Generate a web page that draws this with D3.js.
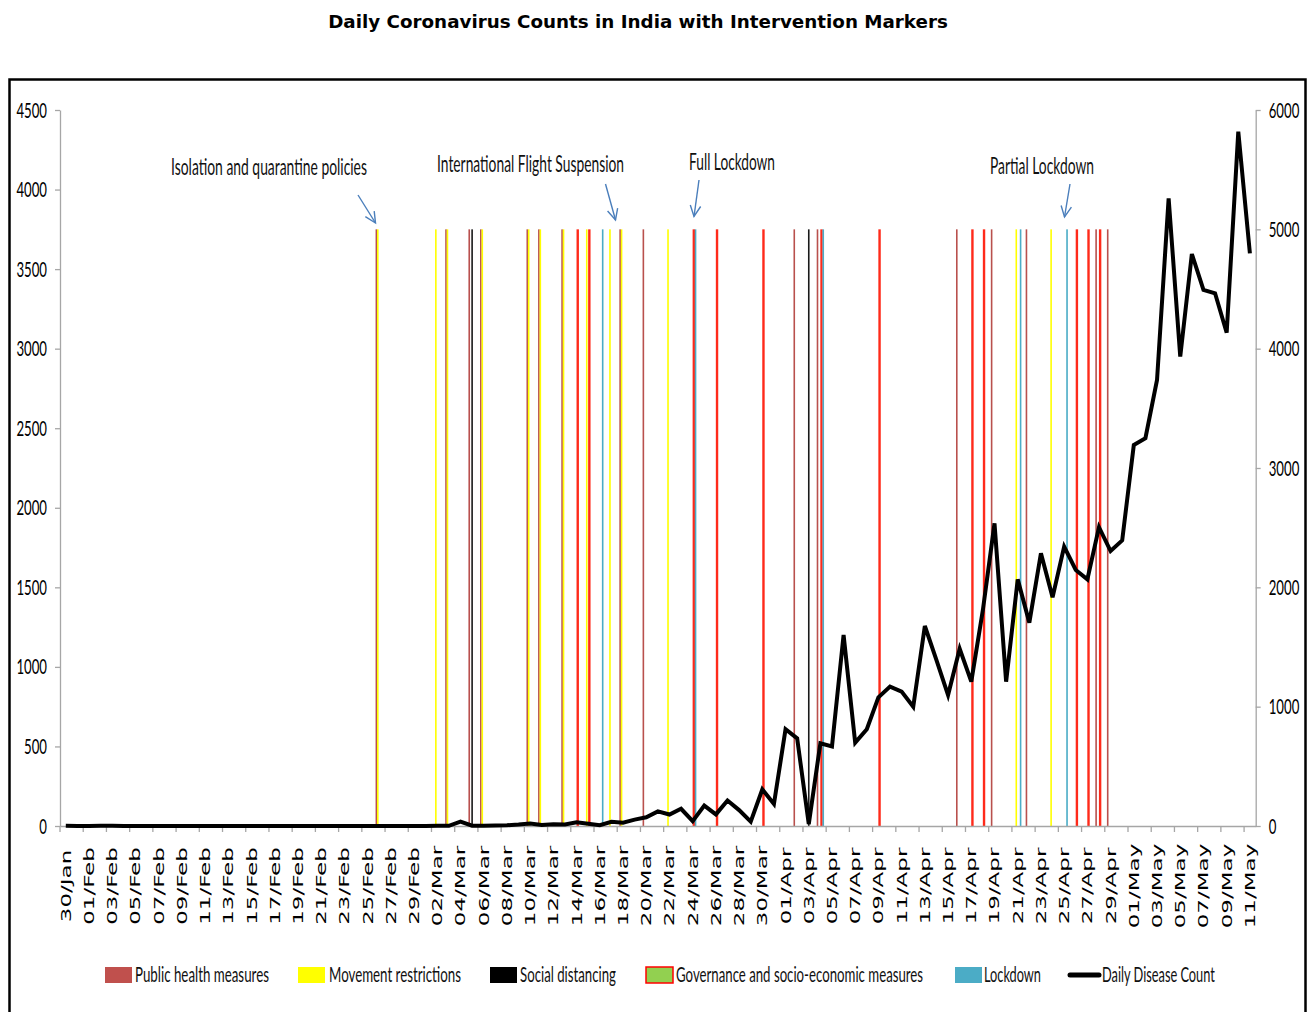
<!DOCTYPE html>
<html><head><meta charset="utf-8">
<script src="https://cdn.jsdelivr.net/npm/d3@7"></script>
<style>body{margin:0;background:#fff} svg{display:block}</style>
</head><body>
<svg id="c" width="1308" height="1012"></svg>
<script>
// ---------------- DATA ----------------
const categories = [
 "30/Jan","31/Jan",
 "01/Feb","02/Feb","03/Feb","04/Feb","05/Feb","06/Feb","07/Feb","08/Feb","09/Feb","10/Feb",
 "11/Feb","12/Feb","13/Feb","14/Feb","15/Feb","16/Feb","17/Feb","18/Feb","19/Feb","20/Feb",
 "21/Feb","22/Feb","23/Feb","24/Feb","25/Feb","26/Feb","27/Feb","28/Feb","29/Feb",
 "01/Mar","02/Mar","03/Mar","04/Mar","05/Mar","06/Mar","07/Mar","08/Mar","09/Mar","10/Mar",
 "11/Mar","12/Mar","13/Mar","14/Mar","15/Mar","16/Mar","17/Mar","18/Mar","19/Mar","20/Mar",
 "21/Mar","22/Mar","23/Mar","24/Mar","25/Mar","26/Mar","27/Mar","28/Mar","29/Mar","30/Mar","31/Mar",
 "01/Apr","02/Apr","03/Apr","04/Apr","05/Apr","06/Apr","07/Apr","08/Apr","09/Apr","10/Apr",
 "11/Apr","12/Apr","13/Apr","14/Apr","15/Apr","16/Apr","17/Apr","18/Apr","19/Apr","20/Apr",
 "21/Apr","22/Apr","23/Apr","24/Apr","25/Apr","26/Apr","27/Apr","28/Apr","29/Apr","30/Apr",
 "01/May","02/May","03/May","04/May","05/May","06/May","07/May","08/May","09/May","10/May","11/May"
];
const dailyCounts = [
 1,0,
 0,1,1,0,0,0,0,0,0,0,
 0,0,0,0,0,0,0,0,0,0,
 0,0,0,0,0,0,0,0,0,
 0,2,1,28,2,1,3,5,9,15,
 6,11,9,23,14,5,26,21,40,55,
 92,72,108,30,128,73,160,100,27,230,138,
 608,551,12,520,500,1200,524,608,809,876,
 845,750,1257,1043,823,1114,907,1358,1902,907,
 1550,1278,1714,1437,1756,1609,1550,1878,1728,1795,
 2395,2437,2803,3945,2950,3595,3369,3348,3100,4364,3599
];
const leftTicks = [0,500,1000,1500,2000,2500,3000,3500,4000,4500];
const rightTicks = [0,1000,2000,3000,4000,5000,6000];

const publicHealthDates = ["26/Feb","03/Mar","05/Mar","06/Mar","10/Mar","11/Mar","13/Mar","18/Mar","20/Mar","02/Apr","04/Apr","16/Apr","19/Apr","22/Apr","28/Apr","29/Apr"];
const movementDates = ["26/Feb","02/Mar","03/Mar","06/Mar","10/Mar","11/Mar","13/Mar","15/Mar","17/Mar","18/Mar","22/Mar","21/Apr","24/Apr"];
const socialDistancingDates = ["05/Mar","03/Apr"];
const governanceDates = ["14/Mar","15/Mar","24/Mar","26/Mar","30/Mar","04/Apr","09/Apr","17/Apr","18/Apr","26/Apr","27/Apr","28/Apr"];
const lockdownDates = ["16/Mar","24/Mar","04/Apr","21/Apr","25/Apr"];
const markerValue = 5000; // on secondary axis

const seriesNames = ["Public health measures","Movement restrictions","Social distancing","Governance and socio-economic measures","Lockdown"];
const seriesDates = [publicHealthDates, movementDates, socialDistancingDates, governanceDates, lockdownDates];
const seriesColors = ["#b9504d","#ffff00","#1a1a1a","#ff2a1a","#4bacc6"];
const legendFill = ["#c0504d","#ffff00","#000000","#92d050","#4bacc6"];

const annotationTexts = ["Isolation and quarantine policies","International Flight Suspension","Full Lockdown","Partial Lockdown"];

// ---------------- CHART ----------------
const svg = d3.select("#c");
const FONT = "Lato, 'Open Sans', sans-serif";

// place a text so that it spans exactly `w` px horizontally (scaled, not spaced)
function fitText(g, str, cx, y, w, size, anchor, opts={}){
  const t = g.append("text").attr("font-family", opts.family || FONT).attr("font-size", size)
    .attr("font-weight", opts.weight || "normal").attr("fill", opts.fill || "#111")
    .attr("text-anchor", anchor).text(str);
  const nat = t.node().getComputedTextLength();
  const s = w / nat;
  t.attr("transform", `translate(${cx},${y}) scale(${s},1)`);
  return t;
}

svg.append("rect").attr("x",9.5).attr("y",79.5).attr("width",1296).attr("height",960)
  .attr("fill","#fff").attr("stroke","#000").attr("stroke-width",2.5);

fitText(svg, "Daily Coronavirus Counts in India with Intervention Markers", 638, 28, 620, 17, "middle",
  {family:"'DejaVu Sans', Verdana, sans-serif", weight:"bold", fill:"#000"});

const x = d3.scaleBand().domain(categories).range([60, 1255.7]).padding(0);
const yL = d3.scaleLinear().domain([0,4500]).range([826,110]);
const yR = d3.scaleLinear().domain([0,6000]).range([826,110]);
const sub = d3.scaleBand().domain(seriesNames).range([-3.6,3.6]);
const AX = "#a6a6a6";

// marker bars
seriesNames.forEach((s,si)=>{
  const w = si===3 ? 2.4 : 1.6;
  svg.append("g").selectAll("rect").data(seriesDates[si]).join("rect")
    .attr("x", d => x(d) + x.bandwidth()/2 + sub(s) + sub.bandwidth()/2 - w/2 + (si===3?-0.3:0))
    .attr("y", yR(markerValue))
    .attr("width", w)
    .attr("height", yR(0) - yR(markerValue))
    .attr("fill", seriesColors[si]);
});

// axes
function styleAxis(g){
  g.selectAll("path").attr("stroke",AX).attr("stroke-width",1.3);
  g.selectAll("line").attr("stroke",AX).attr("stroke-width",1.3);
}
function condenseLabels(g){
  g.selectAll("text").each(function(){
    const t=d3.select(this); const tx=+t.attr("x");
    t.attr("x",0).attr("transform",`translate(${tx},0) scale(0.6,1)`)
     .attr("font-family",FONT).attr("font-size",22).attr("fill","#000");
  });
}
const gl = svg.append("g").attr("transform","translate(60,0)")
  .call(d3.axisLeft(yL).tickValues(leftTicks).tickFormat(d3.format("d")).tickSize(5).tickSizeOuter(0).tickPadding(8));
styleAxis(gl); condenseLabels(gl);
const gr = svg.append("g").attr("transform","translate(1255.7,0)")
  .call(d3.axisRight(yR).tickValues(rightTicks).tickFormat(d3.format("d")).tickSize(5).tickSizeOuter(0).tickPadding(8));
styleAxis(gr); condenseLabels(gr);

const labelCats = categories.filter((c,i)=> i%2===0);
const gb = svg.append("g").attr("transform","translate(0,826)")
  .call(d3.axisBottom(x).tickValues(labelCats).tickSize(0).tickSizeOuter(0).tickPadding(0));
styleAxis(gb);
gb.selectAll("text")
  .attr("y",0).attr("dy","0.36em").attr("text-anchor","middle")
  .attr("transform","translate(0,60) rotate(-90) scale(1,0.6)")
  .attr("font-family","'DejaVu Sans', Verdana, sans-serif").attr("font-size",23).attr("fill","#000");
svg.append("g").selectAll("line").data(labelCats).join("line")
  .attr("x1", d=>x(d)).attr("x2", d=>x(d)).attr("y1",826).attr("y2",832)
  .attr("stroke",AX).attr("stroke-width",1.3);

// daily count line
const line = d3.line().x((d,i)=> x(categories[i]) + x.bandwidth()/2).y(d=> yL(d));
svg.append("path").datum(dailyCounts).attr("d",line)
  .attr("fill","none").attr("stroke","#000").attr("stroke-width",4).attr("stroke-linejoin","miter");

// annotations
const annPos = [
  {tx:269, ty:175, w:196, from:[358,195], to:[375.5,223]},
  {tx:530.5, ty:172, w:187, from:[605.5,184], to:[615.5,220]},
  {tx:732, ty:170, w:86, from:[699,180], to:[694,216.5]},
  {tx:1042, ty:174, w:104, from:[1070,184], to:[1064.5,217]}
];
annotationTexts.forEach((t,i)=>{
  const p = annPos[i];
  fitText(svg, t, p.tx, p.ty, p.w, 24, "middle");
  const [x1,y1]=p.from,[x2,y2]=p.to;
  svg.append("line").attr("x1",x1).attr("y1",y1).attr("x2",x2).attr("y2",y2)
    .attr("stroke","#4a7ebb").attr("stroke-width",1.4);
  const ang=Math.atan2(y2-y1,x2-x1), L=12, a=0.45;
  const p1=[x2-L*Math.cos(ang-a), y2-L*Math.sin(ang-a)];
  const p2=[x2-L*Math.cos(ang+a), y2-L*Math.sin(ang+a)];
  svg.append("path").attr("d",`M${p1[0]},${p1[1]}L${x2},${y2}L${p2[0]},${p2[1]}`)
    .attr("fill","none").attr("stroke","#4a7ebb").attr("stroke-width",1.4);
});

// legend
const legendPos = [
  {sx:105, tx:135, tw:134},
  {sx:298, tx:329, tw:132},
  {sx:490, tx:520, tw:96},
  {sx:646, tx:676, tw:247},
  {sx:955, tx:984, tw:57}
];
seriesNames.forEach((s,i)=>{
  const p = legendPos[i];
  svg.append("rect").attr("x",p.sx).attr("y",967).attr("width",27).attr("height",16)
    .attr("fill",legendFill[i]).attr("stroke", i===3 ? "#ff0000" : "none").attr("stroke-width",1.5);
  fitText(svg, s, p.tx, 982, p.tw, 21, "start");
});
svg.append("line").attr("x1",1070).attr("x2",1099).attr("y1",975).attr("y2",975)
  .attr("stroke","#000").attr("stroke-width",5).attr("stroke-linecap","round");
fitText(svg, "Daily Disease Count", 1102, 982, 113, 21, "start");
</script>
</body></html>
